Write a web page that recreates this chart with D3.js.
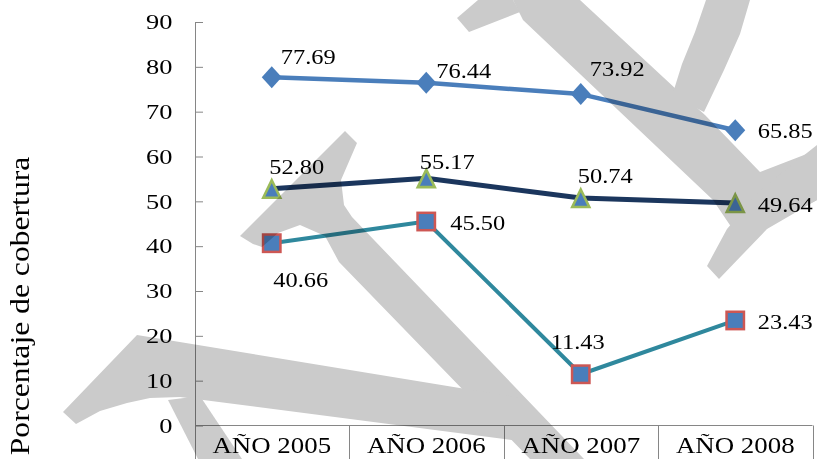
<!DOCTYPE html>
<html>
<head>
<meta charset="utf-8">
<script src="https://cdn.jsdelivr.net/npm/d3@7/dist/d3.min.js"></script>
<style>
  html, body { margin: 0; padding: 0; background: #ffffff; }
  svg { display: block; }
  text { font-family: "Liberation Serif", "Times New Roman", serif; fill: #000; }
</style>
</head>
<body>
<svg id="chart" width="817" height="459"></svg>
<script>
// ---- data ----
const categories = ["AÑO 2005", "AÑO 2006", "AÑO 2007", "AÑO 2008"];
const seriesA = [77.69, 76.44, 73.92, 65.85];   // diamonds
const seriesB = [52.80, 55.17, 50.74, 49.64];   // triangles
const seriesC = [40.66, 45.50, 11.43, 23.43];   // squares
const yTicks = [0, 10, 20, 30, 40, 50, 60, 70, 80, 90];
const yTitle = "Porcentaje de cobertura";

// ---- layout / style (not data) ----
const labelOffsetsA = [[9, -13], [10, -4.5], [9, -18], [22.5, 8]];
const labelOffsetsB = [[-2.5, -14.8], [-6.5, -9.2], [-3, -14.7], [22.5, 9.3]];
const labelOffsetsC = [[1.5, 44], [24, 8.5], [-30, -25.3], [22.5, 8.5]];

const svg = d3.select("#chart");
const x = d3.scaleBand().domain(categories).range([194.5, 812.5]).padding(0);
const y = d3.scaleLinear().domain([0, 90]).range([425.5, 22]);
const cx = c => x(c) + x.bandwidth() / 2;

const axisColor = "#868686";

function stext(g, tx, ty, sx, str, anchor, size) {
  return g.append("text")
    .attr("transform", `translate(${tx},${ty}) scale(${sx},1)`)
    .attr("text-anchor", anchor)
    .style("font-size", size + "px")
    .text(str);
}

// ---- axes ----
const yAxis = d3.axisRight(y).tickValues(yTicks).tickSize(7.5).tickFormat("");
const yg = svg.append("g").attr("transform", "translate(195.5,0)").call(yAxis);
yg.select(".domain").remove();
yg.selectAll(".tick line").attr("stroke", axisColor);
svg.append("line").attr("x1", 195.5).attr("x2", 195.5).attr("y1", y(90)).attr("y2", 459)
  .attr("stroke", axisColor);

const labG = svg.append("g");
yTicks.forEach(t => {
  stext(labG, 172.5, y(t) + 7.3, 1.2, String(t), "end", 22);
});

// x axis line + category dividers
svg.append("line").attr("x1", 195.5).attr("x2", x.range()[1]).attr("y1", y(0)).attr("y2", y(0))
  .attr("stroke", axisColor);
const bounds = categories.map(c => x(c)).concat([x.range()[1]]);
bounds.slice(1).forEach(b => {
  svg.append("line").attr("x1", Math.round(b) + 0.5).attr("x2", Math.round(b) + 0.5)
    .attr("y1", y(0)).attr("y2", 459).attr("stroke", axisColor);
});
categories.forEach(c => {
  stext(labG, cx(c), 453, 1.12, c, "middle", 24);
});

// y title
svg.append("text")
  .attr("transform", "translate(29,306) rotate(-90) scale(1.13,1)")
  .attr("text-anchor", "middle")
  .style("font-size", "28px")
  .text(yTitle);

// ---- series ----
const line = d3.line().x((d, i) => cx(categories[i])).y(d => y(d));

function drawSeries(vals, color, width) {
  svg.append("path").datum(vals).attr("d", line)
    .attr("fill", "none").attr("stroke", color).attr("stroke-width", width)
    .attr("stroke-linejoin", "round");
}
drawSeries(seriesA, "#4a7ebb", 4.5);
drawSeries(seriesB, "#1b365d", 5);
drawSeries(seriesC, "#2f889d", 4);

// markers
seriesA.forEach((v, i) => {
  const px = cx(categories[i]), py = y(v);
  svg.append("path")
    .attr("d", `M${px},${py - 11}L${px + 10},${py}L${px},${py + 11}L${px - 10},${py}Z`)
    .attr("fill", "#4a7ebb");
});
seriesB.forEach((v, i) => {
  const px = cx(categories[i]), py = y(v);
  svg.append("path")
    .attr("d", `M${px},${py - 8.5}L${px + 8.5},${py + 9}L${px - 8.5},${py + 9}Z`)
    .attr("fill", "#4a7ebb").attr("stroke", "#9bbb59").attr("stroke-width", 2.6)
    .attr("stroke-linejoin", "miter");
});
seriesC.forEach((v, i) => {
  const px = cx(categories[i]), py = y(v);
  svg.append("rect")
    .attr("x", px - 8.7).attr("y", py - 8.7).attr("width", 17.4).attr("height", 17.4)
    .attr("fill", "#4a7ebb").attr("stroke", "#cd5754").attr("stroke-width", 2.5);
});

// data labels
function drawLabels(vals, offs) {
  vals.forEach((v, i) => {
    stext(svg, cx(categories[i]) + offs[i][0], y(v) + offs[i][1], 1.11, v.toFixed(2), "start", 22);
  });
}
drawLabels(seriesA, labelOffsetsA);
drawLabels(seriesB, labelOffsetsB);
drawLabels(seriesC, labelOffsetsC);

// ---- watermark (decorative gray strokes, multiplied over the chart) ----
const wm = svg.append("g").style("mix-blend-mode", "multiply").attr("fill", "#cbcbcb");
const wmShapes = [
  // upper-left arm with short stub and arch
  [[240,236],[345,131],[357,143],[341,180],[344,205],[352,217],[584,459],[530,459],[339,262],[325,236],[300,225],[278,233],[262,247],[253,244]],
  // lower horizontal band with tail
  [[63,412],[137,335],[520,398],[520,441],[180,397],[150,398],[127,403],[100,411],[76,424]],
  // lower short diagonal
  [[168,400],[200,396],[242,459],[198,459]],
  // big diagonal top-right
  [[513,0],[580,0],[677,90],[705,115],[760,172],[817,150],[817,200],[740,240],[713,200],[523,20]],
  // descender going down-left
  [[707,266],[727,229],[760,190],[817,145],[817,200],[767,229],[719,279]],
  // hook at top (curved)
  [[672,96],[682,64],[695,32],[706,0],[750,0],[740,34],[724,70],[704,112]],
  // small stub top
  [[457,18],[478,0],[513,0],[520,12],[469,32]]
];
wmShapes.forEach(pts => {
  wm.append("path").attr("d", d3.line().curve(d3.curveLinearClosed)(pts));
});
</script>
</body>
</html>
